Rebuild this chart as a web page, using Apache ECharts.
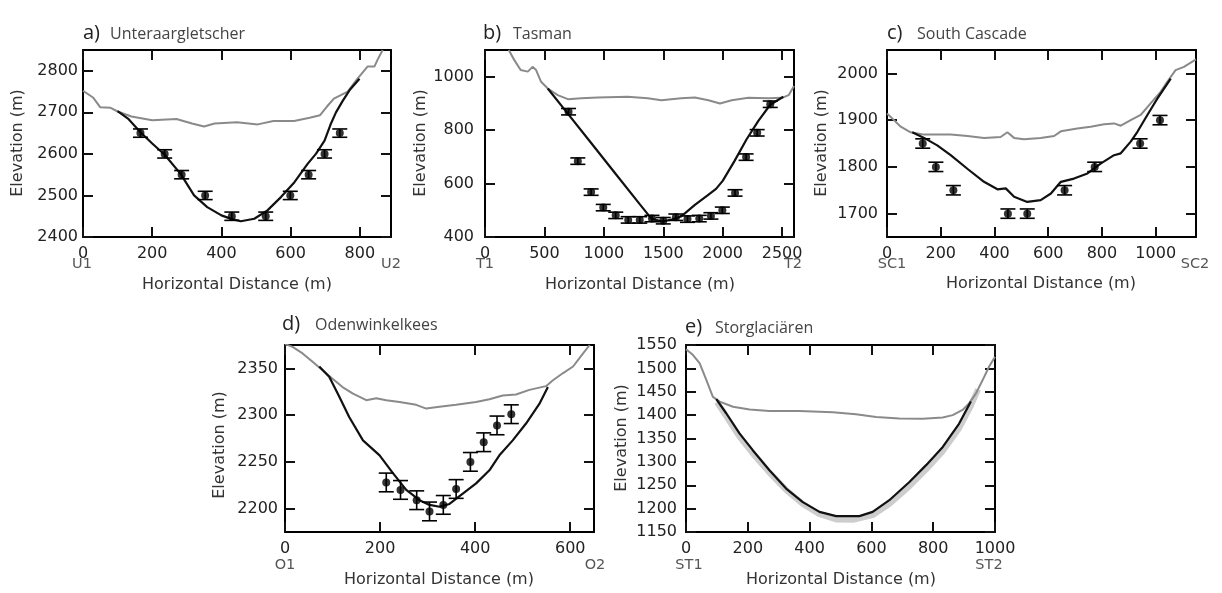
<!DOCTYPE html>
<html><head><meta charset="utf-8">
<script src="https://cdn.jsdelivr.net/npm/echarts@6/dist/echarts.min.js"></script>
<style>html,body{margin:0;padding:0;background:#fff;}#c{width:1222px;height:593px;}</style>
</head><body><div id="c"></div>
<script>
// ---------- DATA ----------
// a) Unteraargletscher
const aSurface = [[0,2752],[30,2735],[50,2712],[80,2711],[100,2702],[140,2690],[200,2681],[270,2684],[315,2673],[350,2666],[380,2673],[445,2676],[505,2671],[550,2679],[610,2679],[655,2687],[685,2693],[705,2714],[725,2733],[765,2750],[792,2780],[812,2800],[822,2810],[842,2810],[852,2828],[866,2850]];
const aBed = [[100,2703],[130,2685],[166,2652],[200,2625],[236,2598],[282,2552],[321,2500],[359,2472],[400,2452],[430,2443],[456,2438],[495,2444],[533,2464],[572,2496],[611,2532],[649,2576],[673,2600],[698,2632],[715,2670],[731,2700],[750,2727],[770,2753],[799,2781]];
const aPoints = [[166,2650],[236,2600],[285,2550],[353,2500],[430,2450],[528,2450],[599,2500],[652,2550],[698,2600],[742,2650]];
const aError = 10;
const aXTicks = [0,200,400,600,800];
const aYTicks = [2400,2500,2600,2700,2800];

// b) Tasman
const bSurface = [[200,1100],[247,1062],[300,1025],[360,1019],[400,1037],[430,1025],[472,981],[528,956],[612,931],[697,916],[810,919],[950,922],[1200,925],[1370,919],[1485,912],[1650,919],[1766,922],[1880,912],[1977,900],[2076,912],[2216,921],[2385,919],[2500,921],[2555,931],[2600,965]];
const bBed = [[528,956],[700,860],[900,748],[1100,636],[1300,524],[1400,469],[1490,458],[1580,466],[1654,478],[1766,520],[1870,555],[1944,580],[2000,610],[2100,685],[2200,765],[2300,835],[2400,895],[2510,925]];
const bPoints = [[703,869],[781,684],[893,568],[995,510],[1100,481],[1205,464],[1302,464],[1405,469],[1500,461],[1606,474],[1704,467],[1803,469],[1901,479],[1997,500],[2104,565],[2197,699],[2290,790],[2400,897]];
const bError = 12;
const bXTicks = [0,500,1000,1500,2000,2500];
const bYTicks = [400,600,800,1000];

// c) South Cascade
const cSurface = [[0,1914],[26,1900],[51,1886],[88,1874],[138,1869],[237,1869],[300,1866],[361,1862],[423,1864],[448,1874],[473,1862],[510,1859],[572,1862],[622,1866],[647,1876],[708,1882],[758,1886],[808,1891],[845,1893],[870,1888],[907,1900],[944,1911],[981,1936],[1019,1961],[1043,1982],[1074,2007],[1105,2014],[1150,2030]];
const cBed = [[94,1874],[138,1862],[187,1846],[237,1825],[299,1796],[361,1768],[411,1752],[442,1754],[473,1736],[522,1725],[572,1729],[610,1743],[647,1768],[696,1775],[746,1786],[795,1807],[845,1825],[870,1829],[907,1854],[932,1875],[969,1911],[1006,1946],[1056,1989]];
const cPoints = [[133,1850],[182,1800],[247,1750],[450,1700],[522,1700],[661,1750],[773,1800],[942,1850],[1016,1900]];
const cError = 10;
const cXTicks = [0,200,400,600,800,1000];
const cYTicks = [1700,1800,1900,2000];

// d) Odenwinkelkees
const dSurface = [[0,2376],[16,2373],[37,2366],[58,2357],[79,2348],[100,2339],[121,2330],[143,2323],[171,2316],[192,2318],[213,2316],[241,2314],[276,2311],[297,2307],[325,2309],[360,2311],[402,2314],[430,2317],[458,2321],[486,2322],[514,2327],[549,2331],[563,2337],[585,2345],[606,2352],[627,2366],[641,2375]];
const dBed = [[72,2352],[93,2341],[114,2320],[135,2298],[164,2273],[199,2257],[227,2238],[255,2220],[283,2209],[304,2204],[325,2202],[346,2205],[374,2216],[402,2227],[430,2241],[451,2257],[479,2273],[507,2291],[535,2312],[553,2330]];
const dPoints = [[213,2228],[243,2220],[277,2209],[304,2197],[333,2204],[360,2221],[390,2250],[418,2271],[446,2289],[476,2301]];
const dError = 10;
const dXTicks = [0,200,400,600];
const dYTicks = [2200,2250,2300,2350];

// e) Storglaciären
const eSurface = [[0,1541],[22,1529],[44,1511],[66,1475],[87,1439],[109,1429],[152,1418],[206,1412],[270,1409],[367,1409],[475,1406],[550,1402],[615,1396],[690,1393],[766,1392],[831,1395],[863,1400],[895,1411],[916,1425],[938,1446],[960,1475],[981,1504],[1000,1525]];
const eBed = [[98,1434],[130,1404],[173,1361],[216,1325],[270,1282],[324,1243],[378,1214],[432,1193],[486,1184],[561,1184],[604,1193],[658,1218],[723,1257],[777,1293],[831,1332],[884,1382],[922,1429]];
const eBand = [[100,1428],[130,1398],[173,1354],[216,1318],[270,1277],[324,1240],[378,1210],[432,1188],[486,1177],[540,1176],[604,1186],[658,1210],[723,1248],[777,1284],[831,1323],[884,1372],[922,1420],[945,1455]];
const eXTicks = [0,200,400,600,800,1000];
const eYTicks = [1150,1200,1250,1300,1350,1400,1450,1500,1550];

const titles = [['a)','Unteraargletscher'],['b)','Tasman'],['c)','South Cascade'],['d)','Odenwinkelkees'],['e)','Storglaciären']];
const endLabels = [['U1','U2'],['T1','T2'],['SC1','SC2'],['O1','O2'],['ST1','ST2']];
const yName = 'Elevation (m)';
const xName = 'Horizontal Distance (m)';

// ---------- LAYOUT ----------
const FONT = "'DejaVu Sans', sans-serif";
const TFONT = "'Open Sans', sans-serif";
const panels = [
  {left:83, top:50, w:308, h:187, xmin:0, xmax:890, ymin:2400, ymax:2850, xt:aXTicks, yt:aYTicks, ym:5,
   surf:aSurface, bed:aBed, pts:aPoints, err:aError, yn:[18,143], xn:[237,285], el:[[82,264],[391,264]], t:[83,110,33]},
  {left:485, top:50, w:309, h:187, xmin:0, xmax:2600, ymin:400, ymax:1100, xt:bXTicks, yt:bYTicks, ym:11,
   surf:bSurface, bed:bBed, pts:bPoints, err:bError, yn:[421,143], xn:[640,285], el:[[485,264],[793,264]], t:[483,513,33]},
  {left:887, top:50, w:309, h:187, xmin:0, xmax:1150, ymin:1650, ymax:2050, xt:cXTicks, yt:cYTicks, ym:9,
   surf:cSurface, bed:cBed, pts:cPoints, err:cError, yn:[822,143], xn:[1041,284], el:[[892,264],[1195,264]], t:[887,917,33]},
  {left:285, top:345, w:309, h:187, xmin:0, xmax:650, ymin:2175, ymax:2375, xt:dXTicks, yt:dYTicks, ym:7,
   surf:dSurface, bed:dBed, pts:dPoints, err:dError, yn:[220,445], xn:[439,580], el:[[285,565],[595,565]], t:[282,315,324]},
  {left:686, top:345, w:309, h:187, xmin:0, xmax:1000, ymin:1150, ymax:1550, xt:eXTicks, yt:eYTicks, ym:9,
   surf:eSurface, bed:eBed, band:eBand, pts:null, yn:[622,438], xn:[841,580], el:[[689,565],[989,565]], t:[685,715,327]}
];

const grid=[], xAxis=[], yAxis=[], series=[], graphic=[];
function txt(x,y,text,font,fill,align,rot){
  return {type:'text', x:x, y:y, rotation:rot||0, silent:true,
    style:{text:text, font:font, fill:fill, textAlign:align||'center', textVerticalAlign:'middle', align:align||'center', verticalAlign:'middle'}};
}
const axLine = {show:true, onZero:false, lineStyle:{color:'#000', width:2}};
const fmt = v => String(v);
const tick = (vals)=>({show:true, inside:true, length:10, customValues:vals, lineStyle:{color:'#111', width:2}});
panels.forEach((p,i)=>{
  grid.push({left:p.left, top:p.top, width:p.w, height:p.h, containLabel:false});
  xAxis.push({type:'value', gridIndex:i, position:'bottom', min:p.xmin, max:p.xmax, axisLine:axLine, splitLine:{show:false},
    axisTick:tick(p.xt), axisLabel:{customValues:p.xt, formatter:fmt, fontFamily:FONT, fontSize:16, color:'#222', margin:9}});
  xAxis.push({type:'value', gridIndex:i, position:'top', min:p.xmin, max:p.xmax, axisLine:axLine, splitLine:{show:false},
    axisTick:tick(p.xt), axisLabel:{show:false}});
  yAxis.push({type:'value', gridIndex:i, position:'left', min:p.ymin, max:p.ymax, axisLine:axLine, splitLine:{show:false},
    axisTick:tick(p.yt), axisLabel:{customValues:p.yt, formatter:fmt, fontFamily:FONT, fontSize:16, color:'#222', margin:p.ym}});
  yAxis.push({type:'value', gridIndex:i, position:'right', min:p.ymin, max:p.ymax, axisLine:axLine, splitLine:{show:false},
    axisTick:tick(p.yt), axisLabel:{show:false}});
  const xi=2*i, yi=2*i;
  if(p.band){
    series.push({type:'line', xAxisIndex:xi, yAxisIndex:yi, data:p.band, symbol:'none', smooth:false,
      lineStyle:{color:'#cdcdcd', width:6}, z:1});
  }
  series.push({type:'line', xAxisIndex:xi, yAxisIndex:yi, data:p.surf, symbol:'none',
    lineStyle:{color:'#8a8a8a', width:2}, z:2});
  series.push({type:'line', xAxisIndex:xi, yAxisIndex:yi, data:p.bed, symbol:'none',
    lineStyle:{color:'#111', width:2.2}, z:3});
  if(p.pts){
    const err = p.err;
    series.push({type:'custom', xAxisIndex:xi, yAxisIndex:yi, z:4,
      data:p.pts.map(d=>[d[0],d[1],err]),
      renderItem:function(params, api){
        const x=api.value(0), y=api.value(1), e=api.value(2);
        const t=api.coord([x,y+e]), b=api.coord([x,y-e]);
        const hw=7.5, st={stroke:'#000', lineWidth:1.6};
        return {type:'group', children:[
          {type:'line', shape:{x1:t[0],y1:t[1],x2:b[0],y2:b[1]}, style:st},
          {type:'line', shape:{x1:t[0]-hw,y1:t[1],x2:t[0]+hw,y2:t[1]}, style:st},
          {type:'line', shape:{x1:b[0]-hw,y1:b[1],x2:b[0]+hw,y2:b[1]}, style:st}
        ]};
      }});
    series.push({type:'scatter', xAxisIndex:xi, yAxisIndex:yi, data:p.pts, symbol:'circle', symbolSize:8,
      itemStyle:{color:'#000'}, z:5});
  }
  graphic.push(txt(p.t[0], p.t[2], titles[i][0], "20px "+TFONT, '#222', 'left'));
  graphic.push(txt(p.t[1], p.t[2]+1, titles[i][1], "16px "+TFONT, '#444', 'left'));
  graphic.push(txt(p.yn[0], p.yn[1], yName, "16px "+FONT, '#333', 'center', Math.PI/2));
  graphic.push(txt(p.xn[0], p.xn[1], xName, "16px "+FONT, '#333', 'center'));
  graphic.push(txt(p.el[0][0], p.el[0][1], endLabels[i][0], "14.5px "+FONT, '#555', 'center'));
  graphic.push(txt(p.el[1][0], p.el[1][1], endLabels[i][1], "14.5px "+FONT, '#555', 'center'));
});

const chart = echarts.init(document.getElementById('c'), null, {renderer:'canvas'});
chart.setOption({animation:false, backgroundColor:'#fff', grid, xAxis, yAxis, series, graphic});
</script></body></html>
